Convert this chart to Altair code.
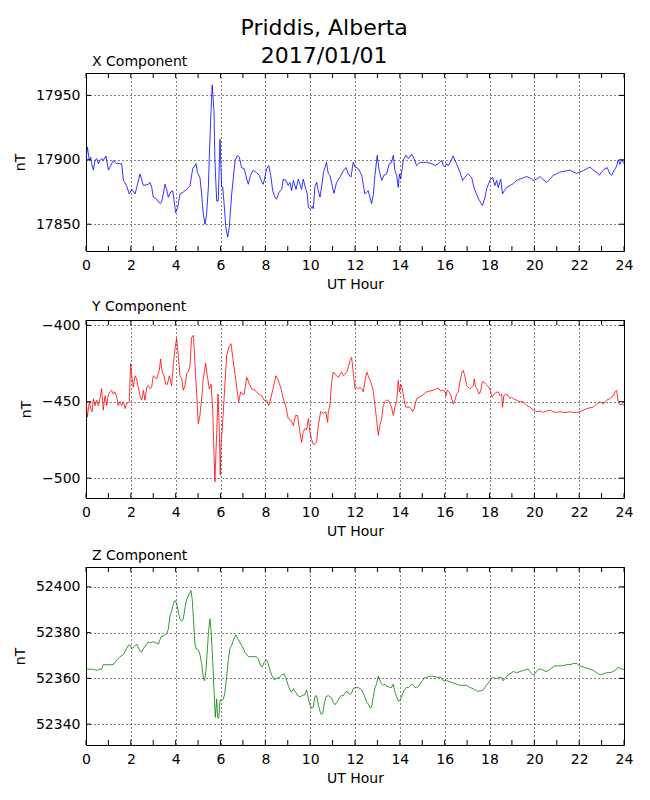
import altair as alt
import pandas as pd

# ---------------- data ----------------
x_hours = [0.00, 0.06, 0.15, 0.21, 0.25, 0.33, 0.40, 0.48, 0.55, 0.62, 0.70, 0.77, 0.89, 1.00, 1.22, 1.37,
           1.59, 1.67, 1.81, 1.93, 2.04, 2.19, 2.41, 2.56, 2.78, 2.85, 2.93, 3.00, 3.15, 3.30, 3.37, 3.45,
           3.52, 3.60, 3.67, 3.78, 3.87, 3.97, 4.00, 4.09, 4.19, 4.34, 4.49, 4.64, 4.76, 4.91, 4.97, 5.08,
           5.16, 5.23, 5.31, 5.38, 5.46, 5.50, 5.56, 5.63, 5.71, 5.75, 5.83, 5.90, 5.95, 5.98, 6.01, 6.05,
           6.10, 6.16, 6.24, 6.32, 6.39, 6.50, 6.65, 6.75, 6.84, 6.94, 7.06, 7.17, 7.24, 7.34, 7.46, 7.61,
           7.73, 7.84, 7.91, 7.98, 8.06, 8.15, 8.24, 8.33, 8.43, 8.50, 8.62, 8.73, 8.80, 8.92, 9.02, 9.10,
           9.17, 9.25, 9.37, 9.47, 9.62, 9.69, 9.81, 9.87, 9.92, 10.02, 10.10, 10.14, 10.21, 10.29, 10.36,
           10.44, 10.51, 10.59, 10.73, 10.81, 10.88,
           11.06, 11.18, 11.33, 11.48, 11.60, 11.70, 11.82, 11.92, 12.00, 12.15, 12.30, 12.44, 12.59, 12.74,
           12.82, 12.89, 12.99, 13.08, 13.19, 13.29, 13.41, 13.53, 13.63, 13.71, 13.78, 13.86, 13.93, 13.98,
           14.04, 14.15, 14.27, 14.38, 14.53, 14.63, 14.75, 14.90, 15.05, 15.20, 15.42, 15.57, 15.72, 15.86,
           15.94, 16.01, 16.09, 16.16, 16.24, 16.38, 16.46, 16.53, 16.68, 16.80, 16.90, 17.05, 17.20, 17.31,
           17.42, 17.54, 17.69, 17.80, 17.87, 18.02, 18.14, 18.24, 18.32, 18.39, 18.50, 18.58, 18.66, 18.76,
           18.91, 19.06, 19.21, 19.36, 19.51, 19.66, 19.80, 19.95, 20.10, 20.25, 20.40, 20.55, 20.70, 20.84,
           20.99, 21.14, 21.29, 21.44, 21.59, 21.74, 21.89, 22.03, 22.18, 22.33, 22.48, 22.63, 22.78, 22.90,
           23.00, 23.15, 23.25, 23.37, 23.45, 23.52, 23.67, 23.74, 23.82, 23.90, 24.00]
x_vals = [17900, 17910, 17899.5, 17902, 17897, 17892, 17899.5, 17901, 17897, 17899.5, 17901, 17899.5, 17903, 17892, 17899.5, 17897,
          17897, 17884, 17880, 17873.5, 17877, 17873.5, 17889, 17880, 17881, 17882.5, 17879, 17871, 17869.5, 17866, 17867, 17873.5,
          17881, 17877, 17871, 17875, 17876, 17863, 17859, 17863, 17873.5, 17875, 17877, 17880, 17893, 17897, 17890, 17886.5,
          17873.5, 17858, 17850, 17858, 17879, 17902, 17930.6, 17958, 17938, 17899.5, 17868, 17868, 17899.5, 17916, 17899.5, 17879,
          17879, 17866, 17847.5, 17840, 17847.5, 17873.5, 17899.5, 17903.4, 17902, 17894, 17893, 17885, 17881, 17888, 17892, 17890,
          17888, 17883, 17881, 17886.5, 17893, 17895.5, 17888, 17876, 17871, 17869.5, 17875, 17877, 17885, 17884, 17880, 17882.5,
          17876, 17884, 17877, 17885, 17877, 17885, 17877, 17873.5, 17863, 17862, 17864, 17862, 17879, 17882.5, 17876,
          17871, 17879, 17890, 17898, 17889, 17888,
          17874, 17882.5, 17886.5, 17891.5, 17894, 17889, 17886.5, 17898, 17894.5, 17893, 17888, 17873.5, 17876, 17866,
          17873.5, 17888, 17903.5, 17891.5, 17884, 17888, 17889, 17897, 17898, 17903.5, 17891.5, 17888, 17878.5, 17889,
          17885, 17899.5, 17903.5, 17901, 17904.5, 17901, 17895.5, 17898, 17898, 17898, 17897, 17895.5, 17897, 17899.5,
          17895.5, 17894.5, 17897, 17895.5, 17898, 17903, 17899.5, 17897, 17890.5, 17884, 17886.5, 17889, 17886.5, 17878.5,
          17873.5, 17868.5, 17864.5, 17871, 17877.5, 17884, 17886.5, 17880, 17884, 17878.5, 17885, 17873.5, 17876, 17878.5,
          17880, 17881.5, 17884, 17885, 17886, 17887, 17886, 17884, 17885, 17887, 17884.5, 17882.5, 17885, 17888,
          17889, 17890.5, 17891, 17891.5, 17892, 17890.5, 17889.5, 17890.5, 17891.5, 17893, 17894.5, 17892, 17890.5, 17888,
          17890.5, 17893, 17894, 17889, 17888, 17890.5, 17895, 17900, 17896.5, 17900, 17897]

y_hours = [0.00, 0.06, 0.15, 0.21, 0.27, 0.33, 0.40, 0.48, 0.55, 0.62, 0.70, 0.77, 0.85, 0.92, 1.00, 1.07,
           1.14, 1.22, 1.29, 1.37, 1.44, 1.52, 1.59, 1.67, 1.74, 1.81, 1.93, 1.99, 2.05, 2.11, 2.19, 2.26,
           2.33, 2.41, 2.48, 2.56, 2.63, 2.71, 2.78, 2.85, 2.93, 3.00, 3.08, 3.15, 3.27, 3.33, 3.40, 3.48,
           3.55, 3.63, 3.72, 3.82, 3.90, 3.97, 4.04, 4.12, 4.19, 4.27, 4.34, 4.42, 4.49, 4.56, 4.64, 4.71,
           4.79, 4.86, 4.94, 5.01, 5.08, 5.16, 5.23, 5.34, 5.41, 5.50, 5.58, 5.65, 5.71, 5.75, 5.83, 5.89,
           5.95, 5.99, 6.02, 6.08, 6.16, 6.27, 6.39, 6.47, 6.57, 6.66, 6.75, 6.81, 6.90, 6.97, 7.06, 7.17,
           7.29, 7.39, 7.54, 7.69, 7.84, 7.94, 8.06, 8.15, 8.24, 8.36, 8.47, 8.58, 8.70, 8.80, 8.92, 9.02,
           9.13, 9.25, 9.35, 9.44, 9.55, 9.62, 9.69, 9.77, 9.84, 9.92, 9.99, 10.07, 10.14, 10.21, 10.29,
           10.36, 10.47, 10.59, 10.70, 10.78, 10.81, 10.88,
           10.96, 11.03, 11.11, 11.18, 11.25, 11.33, 11.40, 11.48, 11.55, 11.63, 11.70, 11.78, 11.85, 11.92,
           12.00, 12.07, 12.15, 12.22, 12.30, 12.37, 12.44, 12.52, 12.59, 12.67, 12.74, 12.82, 12.89, 12.96,
           13.04, 13.11, 13.19, 13.26, 13.34, 13.41, 13.485, 13.56, 13.63, 13.71, 13.78, 13.86, 13.93, 13.98,
           14.04, 14.11, 14.18, 14.26, 14.33, 14.42, 14.50, 14.57, 14.64, 14.75, 14.87, 14.97, 15.08, 15.20,
           15.34, 15.49, 15.64, 15.72, 15.82, 15.91, 16.00, 16.06, 16.12, 16.21, 16.28, 16.38, 16.46, 16.53,
           16.61, 16.68, 16.76, 16.83, 16.90, 16.98, 17.05, 17.13, 17.20, 17.28, 17.32, 17.38, 17.45, 17.53,
           17.60, 17.68, 17.75, 17.83, 17.90, 17.98, 18.05, 18.12, 18.20, 18.29, 18.39, 18.47, 18.54, 18.58,
           18.64, 18.73, 18.84, 18.91, 18.99, 19.06, 19.21, 19.36, 19.51, 19.66, 19.80, 19.95, 20.10, 20.25,
           20.40, 20.55, 20.70, 20.84, 20.99, 21.14, 21.29, 21.44, 21.59, 21.74, 21.89, 22.03, 22.18, 22.33,
           22.48, 22.63, 22.78, 22.93, 23.07, 23.22, 23.37, 23.52, 23.60, 23.67, 23.74, 23.82, 23.89, 24.00]
y_vals = [-449, -460, -450, -454.5, -456.5, -448, -452.5, -449, -452.5, -448, -441.5, -455.5, -446, -452.5, -445, -443.5,
          -442.5, -445, -443.5, -447, -452.5, -450, -452.5, -450, -454.5, -451.5, -450, -425, -434, -440.5, -433, -435,
          -440.5, -446, -449, -442.5, -449, -440.5, -439.5, -441.5, -440.5, -433, -434, -435, -429.5, -422, -430.5, -433,
          -438.5, -438.5, -433, -439.5, -425, -415.5, -408.5, -420, -433, -435, -442.5, -439.5, -431.5, -430.5, -426.5, -408,
          -406.5, -424, -446, -464.5, -459, -448, -435, -425, -433, -441.5, -438.5, -454.5, -483, -502.5, -470, -445,
          -471, -498, -478.5, -467.5, -448, -420, -413.5, -412, -424, -433, -443.5, -450, -443.5, -445, -445, -434,
          -438.5, -441.5, -442.5, -445, -446, -449, -449, -452.5, -448, -440.5, -433, -436, -441.5, -448, -453.5, -461,
          -462, -465.5, -459, -459, -471, -476.5, -470, -467.5, -468.5, -461, -470, -475, -478, -477.5, -476.5,
          -465.5, -456.5, -457.5, -456.5, -463.5, -456.5, -452.5,
          -437, -430.5, -432, -433, -434, -432, -430.5, -433, -432, -430.5, -427.5, -423, -421, -430.5,
          -441.5, -440.5, -441.5, -440.5, -441.5, -443.5, -437, -430.5, -433, -436, -438.5, -443.5, -452.5, -461,
          -472, -465.5, -461, -452.5, -450, -449, -449, -451.5, -453.5, -459, -453.5, -450, -436, -443.5,
          -438.5, -441.5, -448, -453.5, -453.5, -453.5, -454.5, -456.5, -454.5, -448, -447, -446, -445, -443.5,
          -443, -442.5, -441.5, -441, -443, -442.5, -443, -446, -442.5, -444, -446, -451.5, -449, -445,
          -443.5, -437, -431.5, -429.5, -433, -439.5, -440.5, -441.5, -440.5, -439.5, -435, -440.5, -441.5, -445,
          -443.5, -437, -437, -438.5, -439.5, -440.5, -443.5, -447, -445, -444, -443.5, -446, -445, -453.5,
          -446, -445, -446, -448, -447, -448, -449, -450, -450, -452.5, -453.5, -455.5, -456.5, -456,
          -457, -456, -455.5, -456.5, -457, -456.5, -457, -457, -456.5, -457, -457, -456.5, -455.5, -454.5,
          -454, -453.5, -451.5, -450, -451.5, -449, -448, -446, -443.5, -442.5, -450, -452, -451.5, -452]

z_hours = [0.00, 0.06, 0.18, 0.33, 0.48, 0.62, 0.70, 0.77, 0.85, 0.92, 1.07, 1.22, 1.37, 1.52, 1.67, 1.81,
           1.89, 1.96, 2.04, 2.11, 2.26, 2.33, 2.41, 2.48, 2.56, 2.71, 2.78, 2.85, 3.00, 3.15, 3.23, 3.30,
           3.37, 3.45, 3.60, 3.67, 3.75, 3.82, 3.90, 3.97, 4.04, 4.12, 4.19, 4.27, 4.34, 4.42, 4.49, 4.56,
           4.64, 4.68, 4.74, 4.79, 4.86, 4.91, 5.01, 5.08, 5.16, 5.23, 5.29, 5.35, 5.41, 5.47, 5.53, 5.59,
           5.65, 5.71, 5.77, 5.83, 5.87, 5.92, 5.98, 6.04, 6.13, 6.20, 6.27, 6.35, 6.42, 6.50, 6.57, 6.65,
           6.69, 6.79, 6.94, 7.09, 7.24, 7.46, 7.61, 7.69, 7.79, 7.87, 7.94, 8.06, 8.13, 8.21, 8.28, 8.39,
           8.50, 8.62, 8.73, 8.83, 8.92, 9.02, 9.10, 9.17, 9.25, 9.35, 9.44, 9.55, 9.65, 9.77, 9.84, 9.92,
           9.99, 10.07, 10.14, 10.21, 10.29, 10.36, 10.47, 10.56, 10.62, 10.70, 10.81, 10.88,
           10.96, 11.03, 11.11, 11.18, 11.25, 11.33, 11.40, 11.48, 11.55, 11.63, 11.70, 11.78, 11.85, 11.92,
           12.00, 12.07, 12.15, 12.22, 12.30, 12.37, 12.44, 12.52, 12.59, 12.67, 12.74, 12.82, 12.89, 12.96,
           13.04, 13.11, 13.19, 13.26, 13.34, 13.41, 13.485, 13.56, 13.63, 13.71, 13.74, 13.78, 13.86, 13.93,
           14.01, 14.08, 14.15, 14.23, 14.30, 14.38, 14.45, 14.53, 14.60, 14.67, 14.75, 14.82, 14.90, 14.97,
           15.05, 15.12, 15.20, 15.34, 15.49, 15.64, 15.79, 15.86, 15.94, 16.01, 16.09, 16.24, 16.38, 16.53,
           16.68, 16.83, 16.98, 17.13, 17.28, 17.42, 17.57, 17.72, 17.87, 18.02, 18.14, 18.24, 18.32, 18.44,
           18.54, 18.61, 18.69, 18.76, 18.91, 19.06, 19.21, 19.36, 19.51, 19.66, 19.73, 19.80, 19.95, 20.03,
           20.10, 20.18, 20.25, 20.32, 20.40, 20.55, 20.70, 20.84, 20.92, 21.07, 21.22, 21.44, 21.59, 21.74,
           21.89, 22.03, 22.18, 22.33, 22.48, 22.63, 22.78, 22.93, 23.07, 23.22, 23.37, 23.52, 23.67, 23.74,
           23.82, 23.89, 24.00]
z_vals = [52363.5, 52364, 52364, 52364, 52363.5, 52364, 52364, 52366, 52366, 52366, 52366, 52366, 52368, 52369.5, 52370.5, 52373,
          52374.5, 52374.5, 52373, 52373.5, 52375, 52373.5, 52372, 52371.5, 52373, 52375, 52376, 52375.5, 52376, 52375.5, 52375, 52377,
          52378.5, 52378.5, 52379.5, 52381.5, 52387.5, 52389.5, 52392.5, 52394, 52393, 52389, 52386, 52385, 52386, 52391, 52394.5, 52396,
          52397.5, 52398.5, 52394.5, 52386.5, 52375, 52373, 52372.5, 52370.5, 52366.5, 52360.5, 52359, 52363.5, 52372, 52381, 52386, 52379.5,
          52368, 52355, 52343, 52351, 52343, 52342.5, 52350.5, 52350.5, 52351, 52354, 52360.5, 52368, 52373, 52374.5, 52376.5, 52378.5,
          52379, 52377, 52374.5, 52371.5, 52369.5, 52369.5, 52369.5, 52368.5, 52365.5, 52365, 52367, 52368, 52366.5, 52363.5, 52361.5, 52359.5,
          52360, 52360.5, 52361.5, 52362, 52360, 52357, 52355, 52354, 52355.5, 52354, 52352.5, 52352, 52352.5, 52353, 52355, 52351,
          52348.5, 52347, 52347.5, 52352, 52352.5, 52348.5, 52344.5, 52344.5, 52348.5, 52352, 52352.5, 52352,
          52351.5, 52349.5, 52348.5, 52349.5, 52350.5, 52352, 52352.5, 52352.5, 52353.5, 52354.5, 52353.5, 52353, 52353.5, 52355.5,
          52356, 52356, 52356, 52355.5, 52355, 52353.5, 52352, 52349.5, 52349, 52347, 52347.5, 52352, 52356, 52357.5,
          52361, 52359, 52357.5, 52357, 52357.5, 52356.5, 52356.5, 52356, 52356, 52357.5, 52356, 52354, 52352, 52350,
          52350.5, 52352, 52354, 52355.5, 52356, 52356, 52356.5, 52357.5, 52357, 52356, 52356, 52356.5, 52357.5, 52358.5,
          52359.5, 52360.5, 52360.5, 52361, 52361, 52360.5, 52360.5, 52360, 52359, 52359, 52359, 52358.5, 52358, 52357.5,
          52357, 52357, 52357, 52356, 52355.5, 52354.5, 52354.5, 52355, 52357, 52359, 52360.5, 52360, 52360, 52360.5,
          52360.5, 52359, 52360, 52361, 52362, 52363, 52362.5, 52363, 52363.5, 52364, 52364, 52363, 52361.5, 52362,
          52363, 52364, 52364, 52364, 52363.5, 52363, 52364, 52365, 52365.5, 52365.5, 52365.5, 52366, 52366, 52366.5,
          52366.5, 52365.5, 52365, 52364.5, 52364, 52363.5, 52362.5, 52361.5, 52362, 52362.5, 52362.5, 52363, 52364, 52365,
          52364.5, 52364, 52364]

hour_ticks = [0, 2, 4, 6, 8, 10, 12, 14, 16, 18, 20, 22, 24]
minor_hours = list(range(0, 25))
x_ticks_nT = [17850, 17900, 17950]
y_ticks_nT = [-500, -450, -400]
z_ticks_nT = [52340, 52360, 52380, 52400]

W, H = 538, 178
TL = 5  # inward tick length


def panel(hours, vals, color, domain, yticks, title):
    df = pd.DataFrame({"hour": hours, "nT": vals})
    xs = alt.Scale(domain=[0, 24], nice=False, zero=False)
    ys = alt.Scale(domain=domain, nice=False, zero=False)
    xaxis = alt.Axis(values=hour_ticks, title="UT Hour", grid=True, ticks=False, domain=False,
                     labelPadding=7, titlePadding=5, format="d", labelFlush=False)
    yaxis = alt.Axis(values=yticks, title="nT", grid=True, ticks=False, domain=False,
                     labelPadding=6, titlePadding=8, format="d")
    line = alt.Chart(df).mark_line(color=color, strokeWidth=0.8, clip=True).encode(
        x=alt.X("hour:Q", scale=xs, axis=xaxis),
        y=alt.Y("nT:Q", scale=ys, axis=yaxis),
    )
    tdf = pd.DataFrame({"hour": minor_hours})
    top = alt.Chart(tdf).mark_rule(color="black", strokeWidth=1).encode(
        x=alt.X("hour:Q", scale=xs), y=alt.value(0), y2=alt.value(TL))
    bot = alt.Chart(tdf).mark_rule(color="black", strokeWidth=1).encode(
        x=alt.X("hour:Q", scale=xs), y=alt.value(H - TL), y2=alt.value(H))
    ydf = pd.DataFrame({"nT": yticks})
    left = alt.Chart(ydf).mark_rule(color="black", strokeWidth=1).encode(
        y=alt.Y("nT:Q", scale=ys), x=alt.value(0), x2=alt.value(TL))
    right = alt.Chart(ydf).mark_rule(color="black", strokeWidth=1).encode(
        y=alt.Y("nT:Q", scale=ys), x=alt.value(W - TL), x2=alt.value(W))
    return alt.layer(line, top, bot, left, right).properties(
        width=W, height=H,
        title=alt.TitleParams(title, anchor="start", frame="group", fontSize=14, fontWeight="normal",
                              font="DejaVu Sans", dx=6, offset=-7, baseline="alphabetic", color="black"),
    )


p1 = panel(x_hours, x_vals, "#0000ff", [17829.2, 17967.4], x_ticks_nT, "X Component")
p2 = panel(y_hours, y_vals, "#ff0000", [-513, -396.5], y_ticks_nT, "Y Component")
p3 = panel(z_hours, z_vals, "#008000", [52330.9, 52408.7], z_ticks_nT, "Z Component")

chart = alt.VConcatChart(
    vconcat=[p1, p2, p3], spacing=69, bounds="flush",
    title=alt.TitleParams(["Priddis, Alberta", "2017/01/01"], fontSize=22, fontWeight="normal",
                          font="DejaVu Sans", anchor="middle", lineHeight=28, offset=-14, dx=1, color="black"),
    padding={"left": 4, "top": 9, "right": 5, "bottom": 5},
).configure_view(stroke="black", strokeWidth=1).configure_axis(
    labelFont="DejaVu Sans", labelFontSize=14, labelColor="black",
    titleFont="DejaVu Sans", titleFontSize=14, titleFontWeight="normal", titleColor="black",
    gridColor="black", gridDash=[1, 3], gridOpacity=1, gridWidth=1,
)

chart.save("out.html", embed_options={"renderer": "svg", "actions": False})
